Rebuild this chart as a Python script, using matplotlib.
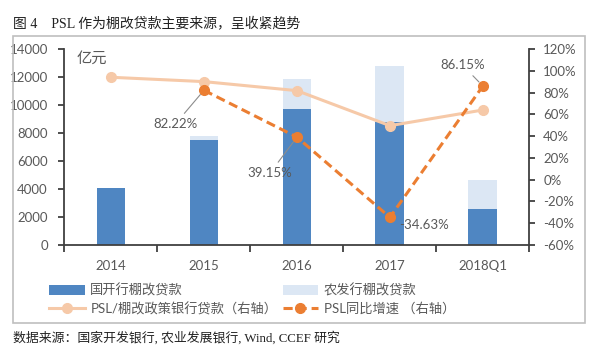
import numpy as np
import matplotlib.pyplot as plt
from matplotlib.patches import Rectangle

plt.rcParams['font.family'] = ['Lato', 'Noto Sans CJK SC', 'DejaVu Sans']

years = ['2014', '2015', '2016', '2017', '2018Q1']
cdb = [4050, 7490, 9710, 8780, 2550]          # 国开行棚改贷款
adbc = [0, 310, 2140, 4020, 2100]             # 农发行棚改贷款
psl_share = [94.2, 90.2, 81.9, 49.7, 64.1]    # PSL/棚改政策银行贷款 (%)
psl_growth = [np.nan, 82.22, 39.15, -34.63, 86.15]  # PSL同比增速 (%)

dark_blue = '#4F86C2'
light_blue = '#DCE7F4'
light_orange = '#F6C9A8'
dark_orange = '#EB7E32'
grey = '#595959'

fig = plt.figure(figsize=(5.96, 3.54), dpi=100)
ax = fig.add_axes([0.1082, 0.308, 0.78, 0.553])
ax2 = ax.twinx()

x = np.arange(len(years))
w = 0.31
b1 = ax.bar(x, cdb, w, color=dark_blue, zorder=2)
b2 = ax.bar(x, adbc, w, bottom=cdb, color=light_blue, zorder=2)

l1, = ax2.plot(x, psl_share, color=light_orange, lw=2.2, marker='o', ms=7,
               mfc=light_orange, mec=light_orange)
l2, = ax2.plot(x, psl_growth, color=dark_orange, lw=2.2, ls=(0, (3, 1.6)),
               marker='o', ms=7, mfc=dark_orange, mec=dark_orange)

ax.set_xlim(-0.5, 4.5)
ax.set_ylim(0, 14000)
ax.set_yticks(range(0, 14001, 2000))
ax2.set_ylim(-60, 120)
ax2.set_yticks(range(-60, 121, 20))
ax2.set_yticklabels(['{}%'.format(v) for v in range(-60, 121, 20)])

ax.set_xticks(x)
ax.set_xticklabels(years)
ax.set_xticks(np.arange(-0.5, 4.6, 1), minor=True)
ax.tick_params(axis='x', which='major', length=0, pad=11, labelsize=9.5, colors=grey)
ax.tick_params(axis='x', which='minor', length=5, width=1.3, color='#404040')
ax.tick_params(axis='y', length=4, width=1.3, color='#404040', labelsize=9.5,
               labelcolor=grey, pad=8)
ax2.tick_params(axis='y', length=4, width=1.3, color='#404040', labelsize=9.5,
                labelcolor=grey, pad=6)

for a in (ax, ax2):
    a.spines['top'].set_visible(False)
    for s in ('left', 'right', 'bottom'):
        a.spines[s].set_color('#404040')
        a.spines[s].set_linewidth(1.3)
ax.spines['right'].set_visible(False)
ax2.spines['left'].set_visible(False)
ax2.spines['bottom'].set_visible(False)

ax.text(0.025, 0.985, '亿元', transform=ax.transAxes, fontsize=11, color=grey,
        va='top', ha='left')

arrow = dict(arrowstyle='-', color='#8C8C8C', lw=0.8, shrinkA=2, shrinkB=4)
ax2.annotate('82.22%', xy=(1, 82.22), xytext=(0.69, 51), fontsize=9.5,
             color=grey, ha='center', va='center', arrowprops=arrow)
ax2.annotate('39.15%', xy=(2, 39.15), xytext=(1.71, 6), fontsize=9.5,
             color=grey, ha='center', va='center', arrowprops=arrow)
ax2.text(3.1, -41.5, '-34.63%', fontsize=9.5, color=grey, ha='left', va='center')
ax2.annotate('86.15%', xy=(4, 86.15), xytext=(3.78, 105.5), fontsize=9.5,
             color=grey, ha='center', va='center', arrowprops=arrow)

# legend fills column-wise, so order is col1 then col2
fig.legend([b1, l1, b2, l2],
           ['国开行棚改贷款', 'PSL/棚改政策银行贷款（右轴）', '农发行棚改贷款', 'PSL同比增速 （右轴）'],
           ncol=2, loc='upper left', bbox_to_anchor=(0.083, 0.2), frameon=False,
           fontsize=9.5, handlelength=2.7, handletextpad=0.4, columnspacing=0.4,
           labelspacing=0.4, labelcolor=grey, borderpad=0, borderaxespad=0)

fig.patches.append(Rectangle((13 / 596, 1 - 323 / 354), 572 / 596, 287 / 354,
                             transform=fig.transFigure, fill=False,
                             edgecolor='#BFBFBF', lw=1.2))

fig.text(0.022, 0.922, '图 4　PSL 作为棚改贷款主要来源，呈收紧趋势',
         family=['Liberation Serif', 'Noto Sans CJK SC'], fontsize=10, color='#222222')
fig.text(0.022, 0.035, '数据来源：国家开发银行, 农业发展银行, Wind, CCEF 研究',
         family=['Liberation Serif', 'Noto Sans CJK SC'], fontsize=9.3, color='#222222')

fig.savefig('out.png', dpi=100)
